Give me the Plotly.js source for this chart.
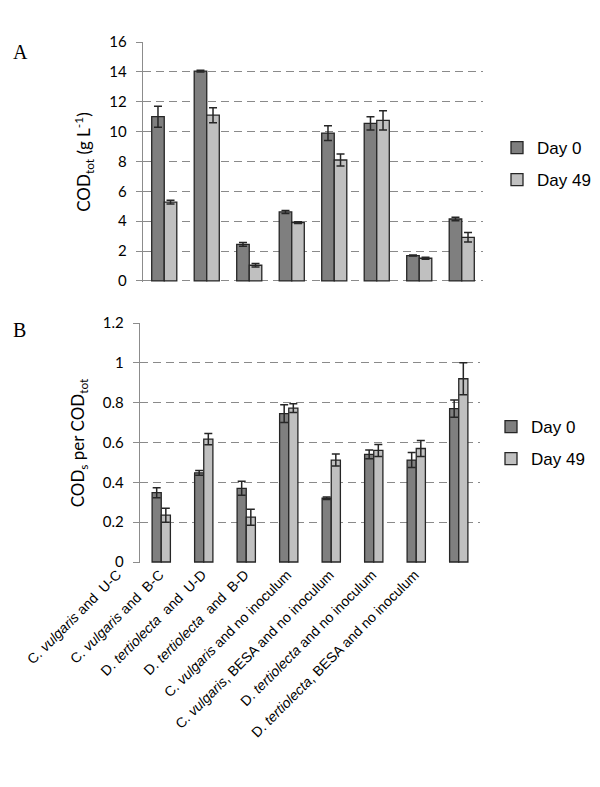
<!DOCTYPE html>
<html><head><meta charset="utf-8">
<script src="https://cdn.plot.ly/plotly-3.0.1.min.js"></script>
<style>html,body{margin:0;padding:0;background:#fff}#chart{width:600px;height:787px}</style>
</head><body><div id="chart"></div>
<script>
const categories = [
  "C. <i>vulgaris</i> and  U-C",
  "C. <i>vulgaris</i> and  B-C",
  "D. <i>tertiolecta</i>  and  U-D",
  "D. <i>tertiolecta</i>  and  B-D",
  "C. <i>vulgaris</i> and no inoculum",
  "C. <i>vulgaris</i>, BESA and no inoculum",
  "D. <i>tertiolecta</i> and no inoculum",
  "D. <i>tertiolecta</i>, BESA and no inoculum"
];
const seriesNames = ["Day 0", "Day 49"];
const codTotDay0 = [11.0, 14.05, 2.45, 4.62, 9.9, 10.55, 1.7, 4.15];
const codTotDay0Err = [0.7, 0.06, 0.12, 0.1, 0.5, 0.45, 0.03, 0.12];
const codTotDay49 = [5.28, 11.1, 1.05, 3.9, 8.1, 10.75, 1.52, 2.92];
const codTotDay49Err = [0.12, 0.5, 0.12, 0.06, 0.4, 0.65, 0.06, 0.32];
const ratioDay0 = [0.348, 0.448, 0.37, 0.745, 0.32, 0.54, 0.512, 0.77];
const ratioDay0Err = [0.025, 0.012, 0.035, 0.045, 0.006, 0.022, 0.038, 0.043];
const ratioDay49 = [0.235, 0.617, 0.225, 0.773, 0.512, 0.56, 0.57, 0.92];
const ratioDay49Err = [0.035, 0.028, 0.04, 0.022, 0.03, 0.03, 0.04, 0.08];

const dark = "#7f7f7f", light = "#c0c0c0", edge = "#262626";
const W = 600, H = 787;
function bar(y, err, name, color, xa, ya, legend, off, wd) {
  return {
    type: "bar", x: categories, y: y, name: name, xaxis: xa, yaxis: ya,
    legend: legend, legendgroup: legend + name, offset: off, width: wd,
    marker: {color: color, line: {color: edge, width: 1.3}},
    error_y: {type: "data", array: err, visible: true, color: "#262626", thickness: 1.5, width: 4},
    hoverinfo: "skip"
  };
}
const wTop = 0.295, wBot = 0.215;
const data = [
  bar(codTotDay0, codTotDay0Err, seriesNames[0], dark, "x", "y", "legend", -wTop, wTop),
  bar(codTotDay49, codTotDay49Err, seriesNames[1], light, "x", "y", "legend", 0, wTop),
  bar(ratioDay0, ratioDay0Err, seriesNames[0], dark, "x2", "y2", "legend2", -wBot, wBot),
  bar(ratioDay49, ratioDay49Err, seriesNames[1], light, "x2", "y2", "legend2", 0, wBot)
];
const tickFont = {family: "Lato, 'Open Sans', sans-serif", size: 15, color: "#000"};
const yCommon = {
  showgrid: true, gridcolor: "#8a8a8a", gridwidth: 1, griddash: "8px,5px",
  zeroline: false, showline: true, linecolor: "#8c8c8c", linewidth: 1.3,
  ticks: "outside", ticklen: 6, tickcolor: "#8c8c8c", tickwidth: 1,
  tickfont: tickFont, ticklabelstandoff: 6
};
const xCommon = {
  type: "category", showgrid: false, zeroline: false, showline: false, ticks: "",
  range: [-0.5, 7.5]
};
const layout = {
  width: W, height: H, margin: {l: 0, r: 0, t: 0, b: 0},
  paper_bgcolor: "#fff", plot_bgcolor: "rgba(0,0,0,0)",
  barmode: "overlay", showlegend: true,
  font: {family: "Liberation Sans, Arial, sans-serif", color: "#000"},
  xaxis: Object.assign({}, xCommon, {domain: [143/W, 483/W], anchor: "y", showticklabels: false, tickmode: "array", tickvals: []}),
  yaxis: Object.assign({}, yCommon, {domain: [1-282/H, 1-42/H], anchor: "x", range: [-0.07, 16], tick0: 0, dtick: 2,
    title: {text: "COD<sub>tot</sub> (g L<sup>-1</sup>)", font: {family: "Lato, 'Open Sans', sans-serif", size: 17}, standoff: 14}}),
  xaxis2: Object.assign({}, xCommon, {domain: [140/W, 480/W], anchor: "y2", showticklabels: true,
    tickangle: -45, ticklabelshift: -44, tickfont: {family: "Liberation Sans, Arial, sans-serif", size: 14, color: "#000"}}),
  yaxis2: Object.assign({}, yCommon, {domain: [1-563/H, 1-323/H], anchor: "x2", range: [-0.005, 1.2], tick0: 0, dtick: 0.2,
    title: {text: "COD<sub>s</sub> per COD<sub>tot</sub>", font: {family: "Lato, 'Open Sans', sans-serif", size: 17}, standoff: 13}}),
  legend: {x: 497/W, y: 1-130/H, xanchor: "left", yanchor: "top", traceorder: "grouped", tracegroupgap: 7,
    font: {family: "Liberation Sans, Arial, sans-serif", size: 17}, bgcolor: "rgba(0,0,0,0)"},
  legend2: {x: 491/W, y: 1-409/H, xanchor: "left", yanchor: "top", traceorder: "grouped", tracegroupgap: 7,
    font: {family: "Liberation Sans, Arial, sans-serif", size: 17}, bgcolor: "rgba(0,0,0,0)"},
  annotations: [
    {text: "A", x: 11/W, y: 1-52/H, xref: "paper", yref: "paper", xanchor: "left", yanchor: "middle", showarrow: false,
     font: {family: "Liberation Serif, 'Times New Roman', serif", size: 20}},
    {text: "B", x: 11/W, y: 1-330/H, xref: "paper", yref: "paper", xanchor: "left", yanchor: "middle", showarrow: false,
     font: {family: "Liberation Serif, 'Times New Roman', serif", size: 20}}
  ]
};
Plotly.newPlot("chart", data, layout, {displayModeBar: false, staticPlot: true});
</script></body></html>
